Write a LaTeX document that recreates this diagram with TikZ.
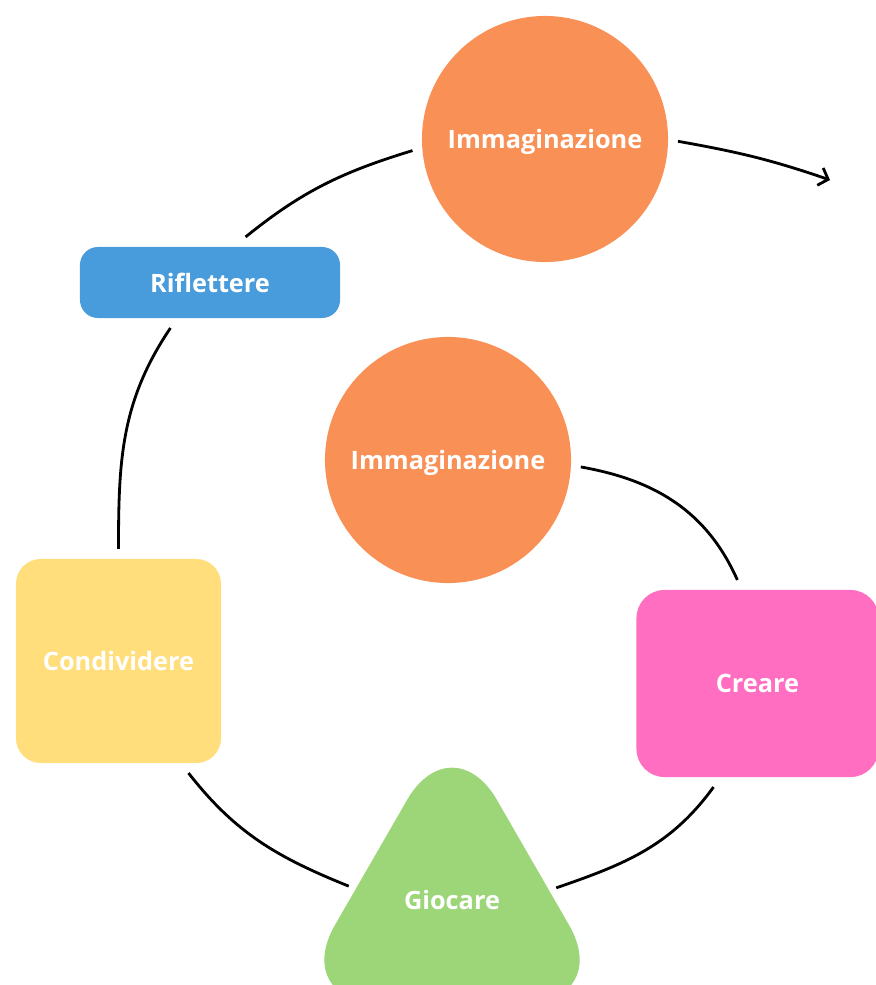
\documentclass[tikz,border=0pt]{standalone}
\usepackage{fontspec}
\setmainfont{Open Sans}
\usetikzlibrary{arrows.meta}
\usetikzlibrary{backgrounds}
\usetikzlibrary{shapes.geometric}

\definecolor{immorange}{RGB}{249,145,87}
\definecolor{rifblue}{RGB}{73,156,219}
\definecolor{conyellow}{RGB}{255,222,123}
\definecolor{giogreen}{RGB}{156,214,121}
\definecolor{crepink}{RGB}{255,110,192}

\begin{document}
\begin{tikzpicture}[x=0.025cm,y=-0.025cm]
	\useasboundingbox (0,0) rectangle (875,985);
	\begin{scope}[every node/.style={text=white, font=\bfseries\fontsize{18}{22}\selectfont, outer sep=0.25cm, inner sep=0pt}]
		\node[circle, fill=immorange, minimum size=6.15cm, text depth=0pt] (1) at (545,139) {Immaginazione};
		\node[rectangle, rounded corners=0.45cm, fill=rifblue, minimum width=6.5cm, minimum height=1.775cm] (2) at (210,282.5) {Riflettere};
		\node[rectangle, rounded corners=0.62cm, fill=conyellow, minimum width=5.125cm, minimum height=5.1cm] (3) at (118.5,661) {Condividere};
		\node[regular polygon, regular polygon sides=3, minimum size=9.53cm, text depth=0.5cm, outer sep=0.15cm] (4) at (452,910) {Giocare};
		\node[rectangle, rounded corners=0.7cm, fill=crepink, minimum width=6.05cm, minimum height=4.675cm] (5) at (757.5,683.5) {Creare};
		\node[circle, fill=immorange, minimum size=6.15cm, text depth=0pt] (6) at (448,460) {Immaginazione};
		\coordinate (7) at (830,180);
	\end{scope}

	% rounded triangle behind Giocare
	\begin{scope}[on background layer]
		\fill[giogreen, rounded corners=2.25cm] (452,1003) -- (290,1003) -- (452,722) -- (614,1003) -- cycle;
	\end{scope}

	\begin{scope}[>={Straight Barb[length=6pt,width=13pt]},
	              every edge/.style={draw=black, line width=2pt}]
		\path (1.185) edge[out=197, in=39] (2.52);
		\path (2.229) edge[out=236, in=90] (3.north);
		\path (3.-58) edge[out=-52, in=158] (4.167);
		\path (4.12) edge[out=19, in=-126] (5.-113);
		\path (5.101) edge[out=114, in=-10] (6.-3);
		\path (1.-1) edge[->, out=-10, in=161] (7);
	\end{scope}
\end{tikzpicture}
\end{document}
